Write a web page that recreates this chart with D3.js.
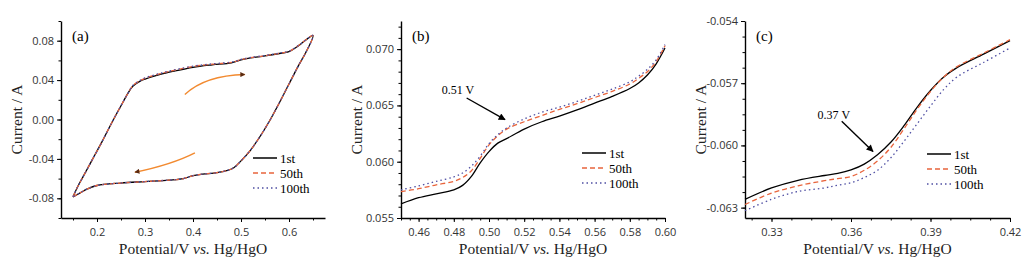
<!DOCTYPE html>
<html>
<head>
<meta charset="utf-8">
<script src="https://cdn.jsdelivr.net/npm/d3@7"></script>
<style>
  body { margin: 0; background: #fff; }
  svg { display: block; }
  .tick text { font-family: "Open Sans", sans-serif; font-size: 11px; fill: #333; }
  .domain, .tick line { stroke: #000; }
</style>
</head>
<body>
<div id="chart"></div>
<script>
// ---------- data: [potential (V), current (A)] ----------
// (a) full CV loop
const cvFirst = [
  [0.15,-0.0785],[0.16,-0.068],[0.17,-0.059],[0.18,-0.050],[0.19,-0.041],[0.21,-0.023],
  [0.23,-0.004],[0.25,0.014],[0.265,0.027],[0.275,0.034],[0.29,0.039],[0.30,0.041],
  [0.33,0.0455],[0.36,0.049],[0.40,0.053],[0.44,0.0555],[0.48,0.0575],[0.50,0.0605],
  [0.52,0.0625],[0.55,0.0645],[0.58,0.067],[0.60,0.069],[0.62,0.075],[0.65,0.0853],
  [0.635,0.068],[0.62,0.055],[0.60,0.036],[0.58,0.017],[0.56,-0.001],[0.54,-0.017],
  [0.52,-0.031],[0.50,-0.042],[0.485,-0.049],[0.47,-0.052],[0.45,-0.054],[0.42,-0.0555],
  [0.40,-0.057],[0.38,-0.060],[0.35,-0.0615],[0.30,-0.063],[0.25,-0.0645],[0.20,-0.067],
  [0.18,-0.0705],[0.165,-0.0745],[0.15,-0.0785]
];
const cvFiftieth = [
  [0.15,-0.0785],[0.16,-0.068],[0.17,-0.059],[0.18,-0.050],[0.19,-0.041],[0.21,-0.023],
  [0.23,-0.004],[0.25,0.014],[0.265,0.027],[0.275,0.0345],[0.29,0.0395],[0.30,0.0418],
  [0.33,0.0463],[0.36,0.0498],[0.40,0.0538],[0.44,0.0562],[0.48,0.058],[0.50,0.0608],
  [0.52,0.0628],[0.55,0.0647],[0.58,0.0672],[0.60,0.0692],[0.62,0.0752],[0.65,0.0853],
  [0.635,0.068],[0.62,0.055],[0.60,0.036],[0.58,0.017],[0.56,-0.001],[0.54,-0.017],
  [0.52,-0.031],[0.50,-0.042],[0.485,-0.049],[0.47,-0.052],[0.45,-0.054],[0.42,-0.0555],
  [0.40,-0.057],[0.38,-0.060],[0.35,-0.0615],[0.30,-0.063],[0.25,-0.0645],[0.20,-0.067],
  [0.18,-0.0705],[0.165,-0.0745],[0.15,-0.0785]
];
const cvHundredth = [
  [0.15,-0.0785],[0.16,-0.068],[0.17,-0.059],[0.18,-0.050],[0.19,-0.041],[0.21,-0.023],
  [0.23,-0.004],[0.25,0.014],[0.265,0.027],[0.275,0.0347],[0.29,0.0398],[0.30,0.0422],
  [0.33,0.0467],[0.36,0.0502],[0.40,0.0542],[0.44,0.0565],[0.48,0.0583],[0.50,0.061],
  [0.52,0.063],[0.55,0.0649],[0.58,0.0674],[0.60,0.0694],[0.62,0.0753],[0.65,0.0853],
  [0.635,0.068],[0.62,0.055],[0.60,0.036],[0.58,0.017],[0.56,-0.001],[0.54,-0.017],
  [0.52,-0.031],[0.50,-0.042],[0.485,-0.049],[0.47,-0.052],[0.45,-0.054],[0.42,-0.0555],
  [0.40,-0.057],[0.38,-0.060],[0.35,-0.0615],[0.30,-0.063],[0.25,-0.0645],[0.20,-0.067],
  [0.18,-0.0705],[0.165,-0.0745],[0.15,-0.0785]
];

// (b) anodic zoom
const anodicFirst = [
  [0.45,0.05625],[0.46,0.0568],[0.47,0.05715],[0.48,0.0575],[0.485,0.0579],[0.49,0.0587],
  [0.495,0.0599],[0.50,0.0609],[0.505,0.06165],[0.51,0.06205],[0.52,0.0629],[0.53,0.06355],
  [0.54,0.06405],[0.55,0.0646],[0.56,0.0652],[0.57,0.0658],[0.58,0.0665],[0.585,0.067],
  [0.59,0.0677],[0.595,0.0687],[0.60,0.0701]
];
const anodicFiftieth = [
  [0.45,0.05735],[0.46,0.0576],[0.47,0.05795],[0.48,0.05825],[0.485,0.0586],[0.49,0.0592],
  [0.495,0.0603],[0.50,0.0615],[0.505,0.0623],[0.51,0.0629],[0.52,0.06355],[0.53,0.0641],
  [0.54,0.06465],[0.55,0.06515],[0.56,0.0657],[0.57,0.06625],[0.58,0.0669],[0.585,0.0674],
  [0.59,0.068],[0.595,0.0689],[0.60,0.0703]
];
const anodicHundredth = [
  [0.45,0.0575],[0.46,0.05785],[0.47,0.05825],[0.48,0.05865],[0.485,0.059],[0.49,0.0596],
  [0.495,0.0605],[0.50,0.0616],[0.505,0.0624],[0.51,0.063],[0.52,0.0638],[0.53,0.0644],
  [0.54,0.06485],[0.55,0.06535],[0.56,0.0659],[0.57,0.06645],[0.58,0.0671],[0.585,0.0676],
  [0.59,0.0682],[0.595,0.06905],[0.60,0.0704]
];

// (c) cathodic zoom
const cathodicFirst = [
  [0.32,-0.0626],[0.33,-0.06205],[0.34,-0.06168],[0.35,-0.06145],[0.355,-0.06135],
  [0.36,-0.06118],[0.365,-0.0609],[0.37,-0.06045],[0.375,-0.05985],[0.38,-0.05905],
  [0.385,-0.05815],[0.39,-0.05735],[0.395,-0.0567],[0.40,-0.05625],[0.41,-0.0556],[0.42,-0.05495]
];
const cathodicFiftieth = [
  [0.32,-0.06285],[0.33,-0.0623],[0.34,-0.06195],[0.35,-0.0617],[0.355,-0.0616],
  [0.36,-0.0615],[0.365,-0.0612],[0.37,-0.06075],[0.375,-0.0601],[0.38,-0.0592],
  [0.385,-0.05825],[0.39,-0.0574],[0.395,-0.0567],[0.40,-0.0562],[0.41,-0.05555],[0.42,-0.0549]
];
const cathodicHundredth = [
  [0.32,-0.06315],[0.33,-0.0626],[0.34,-0.06222],[0.35,-0.06205],[0.355,-0.06192],
  [0.36,-0.0618],[0.365,-0.06155],[0.37,-0.0612],[0.375,-0.0606],[0.38,-0.0598],
  [0.385,-0.05895],[0.39,-0.0581],[0.395,-0.0573],[0.40,-0.0567],[0.41,-0.056],[0.42,-0.0553]
];

// tick labels
const ticksAX = [0.2, 0.3, 0.4, 0.5, 0.6];
const ticksAY = [-0.08, -0.04, 0, 0.04, 0.08];
const ticksBX = [0.46, 0.48, 0.50, 0.52, 0.54, 0.56, 0.58, 0.60];
const ticksBY = [0.055, 0.060, 0.065, 0.070];
const ticksCX = [0.33, 0.36, 0.39, 0.42];
const ticksCY = [-0.063, -0.060, -0.057, -0.054];

const cycleNames = ["1st", "50th", "100th"];

// ---------- drawing ----------
const width = 1026, height = 271;
const svg = d3.select("#chart").append("svg")
  .attr("width", width).attr("height", height);

const defs = svg.append("defs");
const addHead = (id, color, w, h) => defs.append("marker")
  .attr("id", id).attr("viewBox", "0 0 10 10")
  .attr("refX", 9).attr("refY", 5)
  .attr("markerUnits", "userSpaceOnUse")
  .attr("markerWidth", w).attr("markerHeight", h)
  .attr("orient", "auto")
  .append("path").attr("d", "M0,0 L10,5 L0,10 Z").attr("fill", color);
addHead("headBlack", "#000", 9, 7);
addHead("headOrange", "#5a2a10", 7, 5);

const styles = [
  { color: "#000000", dash: null },
  { color: "#e8643c", dash: "5,3" },
  { color: "#4f4fa3", dash: "1.5,3" }
];

const fmt = f => v => d3.format(f)(v).replace("\u2212", "-");

function drawPanel(p) {
  const x = d3.scaleLinear().domain(p.xDomain).range([p.left, p.right]);
  const y = d3.scaleLinear().domain(p.yDomain).range([p.bottom, p.top]);
  const g = svg.append("g");

  // minor ticks
  g.append("g").attr("transform", `translate(0,${p.bottom})`)
    .call(d3.axisBottom(x).tickValues(p.xMinor).tickSize(2.5).tickFormat(""))
    .call(s => s.select(".domain").remove());
  g.append("g").attr("transform", `translate(${p.left},0)`)
    .call(d3.axisLeft(y).tickValues(p.yMinor).tickSize(2.5).tickFormat(""))
    .call(s => s.select(".domain").remove());

  // major axes
  g.append("g").attr("transform", `translate(0,${p.bottom})`)
    .call(d3.axisBottom(x).tickValues(p.xTicks).tickSize(4).tickSizeOuter(0).tickPadding(6).tickFormat(fmt(p.xFmt)))
    .call(s => s.select(".domain").attr("stroke-width", 1.4));
  g.append("g").attr("transform", `translate(${p.left},0)`)
    .call(d3.axisLeft(y).tickValues(p.yTicks).tickSize(4).tickSizeOuter(0).tickPadding(3).tickFormat(fmt(p.yFmt)))
    .call(s => s.select(".domain").attr("stroke-width", 1.4));

  // curves: 1st underneath, later cycles drawn over it
  const line = d3.line().x(d => x(d[0])).y(d => y(d[1])).curve(d3.curveCatmullRom);
  [0, 1, 2].forEach(k => {
    g.append("path").datum(p.series[k])
      .attr("d", line)
      .attr("fill", "none")
      .attr("stroke", styles[k].color)
      .attr("stroke-width", 1.3)
      .attr("stroke-dasharray", styles[k].dash);
  });

  // panel letter
  g.append("text").text(p.letter)
    .attr("x", p.left + 11).attr("y", 41)
    .attr("font-family", "Liberation Serif, serif").attr("font-size", 15);

  // axis titles
  const title = g.append("text")
    .attr("x", (p.left + p.right) / 2).attr("y", 254)
    .attr("text-anchor", "middle")
    .attr("font-family", "Liberation Serif, serif").attr("font-size", 15.5).attr("fill", "#222");
  title.append("tspan").text("Potential/V ");
  title.append("tspan").text("vs.").attr("font-style", "italic");
  title.append("tspan").text(" Hg/HgO");

  g.append("text").text("Current / A")
    .attr("transform", `translate(${p.left - 39},${(p.top + p.bottom) / 2}) rotate(-90)`)
    .attr("text-anchor", "middle")
    .attr("font-family", "Liberation Serif, serif").attr("font-size", 15.5).attr("fill", "#222");

  // legend
  cycleNames.forEach((name, k) => {
    const ly = p.legendY + k * 15;
    g.append("line")
      .attr("x1", p.legendX).attr("x2", p.legendX + 24)
      .attr("y1", ly).attr("y2", ly)
      .attr("stroke", styles[k].color).attr("stroke-width", 1.5)
      .attr("stroke-dasharray", styles[k].dash);
    g.append("text").text(name)
      .attr("x", p.legendX + 27).attr("y", ly + 4.5)
      .attr("font-family", "Liberation Serif, serif").attr("font-size", 13);
  });

  if (p.extra) p.extra(g, x, y);
}

drawPanel({
  letter: "(a)", left: 61, right: 325, top: 21, bottom: 218,
  xDomain: [0.125, 0.675], yDomain: [-0.1, 0.1],
  xTicks: ticksAX, yTicks: ticksAY, xFmt: ".1f", yFmt: ".2f",
  xMinor: d3.range(0.15, 0.67, 0.05), yMinor: d3.range(-0.1, 0.101, 0.02),
  series: [cvFirst, cvFiftieth, cvHundredth],
  legendX: 253, legendY: 158,
  extra: (g, x, y) => {
    const arrows = [
      [[0.383, 0.0254], [0.425, 0.0447], [0.508, 0.0457]],
      [[0.404, -0.0338], [0.356, -0.0457], [0.279, -0.0535]]
    ];
    arrows.forEach(a => {
      const path = d3.path();
      path.moveTo(x(a[0][0]), y(a[0][1]));
      path.quadraticCurveTo(x(a[1][0]), y(a[1][1]), x(a[2][0]), y(a[2][1]));
      g.append("path").attr("d", path.toString())
        .attr("fill", "none").attr("stroke", "#f28a30").attr("stroke-width", 1.4)
        .attr("marker-end", "url(#headOrange)");
    });
  }
});

drawPanel({
  letter: "(b)", left: 401, right: 665, top: 21, bottom: 218,
  xDomain: [0.45, 0.60], yDomain: [0.055, 0.0725],
  xTicks: ticksBX, yTicks: ticksBY, xFmt: ".2f", yFmt: ".3f",
  xMinor: d3.range(0.45, 0.6001, 0.005), yMinor: d3.range(0.055, 0.0726, 0.001),
  series: [anodicFirst, anodicFiftieth, anodicHundredth],
  legendX: 582, legendY: 153,
  extra: (g, x, y) => {
    g.append("text").text("0.51 V")
      .attr("x", x(0.4731)).attr("y", y(0.06604))
      .attr("font-family", "Liberation Serif, serif").attr("font-size", 12);
    g.append("line")
      .attr("x1", x(0.4873)).attr("y1", y(0.06566))
      .attr("x2", x(0.5091)).attr("y2", y(0.06373))
      .attr("stroke", "#000").attr("stroke-width", 1.4)
      .attr("marker-end", "url(#headBlack)");
  }
});

drawPanel({
  letter: "(c)", left: 745, right: 1010, top: 21, bottom: 218,
  xDomain: [0.32, 0.42], yDomain: [-0.0635, -0.054],
  xTicks: ticksCX, yTicks: ticksCY, xFmt: ".2f", yFmt: ".3f",
  xMinor: d3.range(0.3225, 0.4201, 0.0075), yMinor: d3.range(-0.063, -0.05399, 0.00075),
  series: [cathodicFirst, cathodicFiftieth, cathodicHundredth],
  legendX: 927, legendY: 154,
  extra: (g, x, y) => {
    g.append("text").text("0.37 V")
      .attr("x", x(0.3474)).attr("y", y(-0.05871))
      .attr("font-family", "Liberation Serif, serif").attr("font-size", 12);
    g.append("line")
      .attr("x1", x(0.3565)).attr("y1", y(-0.05884))
      .attr("x2", x(0.3683)).attr("y2", y(-0.06029))
      .attr("stroke", "#000").attr("stroke-width", 1.4)
      .attr("marker-end", "url(#headBlack)");
  }
});
</script>
</body>
</html>
